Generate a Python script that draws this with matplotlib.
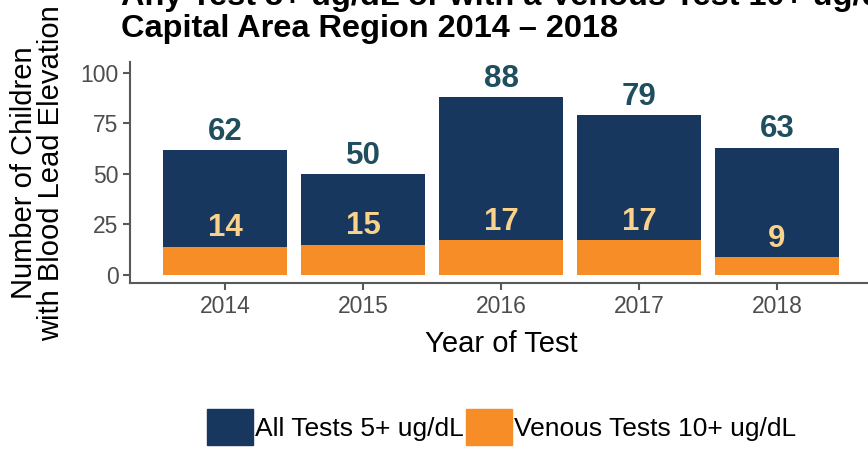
import matplotlib
matplotlib.use("Agg")
import matplotlib.pyplot as plt
from matplotlib.patches import Patch

years = ["2014", "2015", "2016", "2017", "2018"]
all_tests = [62, 50, 88, 79, 63]
venous_tests = [14, 15, 17, 17, 9]
series_names = ["All Tests 5+ ug/dL", "Venous Tests 10+ ug/dL"]
title_lines = ["Any Test 5+ ug/dL or with a Venous Test 10+ ug/dL",
               "Capital Area Region 2014 \u2013 2018"]
y_ticks = [0, 25, 50, 75, 100]

NAVY = "#17375E"
ORANGE = "#F68D26"
TOTAL_LBL = "#1F4E5F"
INNER_LBL = "#FAD28C"
AXIS_GREY = "#595959"
TICK_TXT = "#4D4D4D"

plt.rcParams['font.family'] = ['Liberation Sans', 'DejaVu Sans']

fig = plt.figure(figsize=(8.68, 4.49), dpi=100)
ax = fig.add_axes([0.1492, 0.3686, 0.856, 0.4934])

x = list(range(1, len(years) + 1))
ax.bar(x, all_tests, width=0.9, color=NAVY, zorder=2)
ax.bar(x, venous_tests, width=0.9, color=ORANGE, zorder=3)

for xi, v in zip(x, all_tests):
    ax.text(xi, v + 5.0, str(v), ha='center', va='baseline', fontsize=22.5,
            fontweight='bold', color=TOTAL_LBL, zorder=4)
for xi, v in zip(x, venous_tests):
    ax.text(xi, v + 5.0, str(v), ha='center', va='baseline', fontsize=22.5,
            fontweight='bold', color=INNER_LBL, zorder=4)

ax.set_xlim(0.308, 5.692)
ax.set_ylim(-4.3, 105.4)
ax.set_xticks(x)
ax.set_xticklabels(years)
ax.set_yticks(y_ticks)
ax.tick_params(axis='both', labelsize=16.5, labelcolor=TICK_TXT, color=AXIS_GREY,
               length=5, width=1.5, pad=3)
for s in ['top', 'right']:
    ax.spines[s].set_visible(False)
for s in ['left', 'bottom']:
    ax.spines[s].set_color(AXIS_GREY)
    ax.spines[s].set_linewidth(1.5)

ax.set_xlabel("Year of Test", fontsize=21, labelpad=9)
ax.set_ylabel("Number of Children\nwith Blood Lead Elevation", fontsize=21,
              labelpad=11, linespacing=0.95)

fig.text(0.139, 1 - 37.5 / 449, title_lines[1], ha='left', va='baseline',
         fontsize=23.4, fontweight='bold')
fig.text(0.139, 1 - 5.5 / 449, title_lines[0], ha='left', va='baseline',
         fontsize=23.4, fontweight='bold')

handles = [Patch(color=NAVY), Patch(color=ORANGE)]
fig.legend(handles, series_names, loc='center', bbox_to_anchor=(0.578, 0.049),
           ncol=2, frameon=False, fontsize=19, handlelength=1.74, handleheight=1.7,
           handletextpad=0.08, columnspacing=0.1, borderpad=0, borderaxespad=0)

fig.savefig("out.png", dpi=100)
